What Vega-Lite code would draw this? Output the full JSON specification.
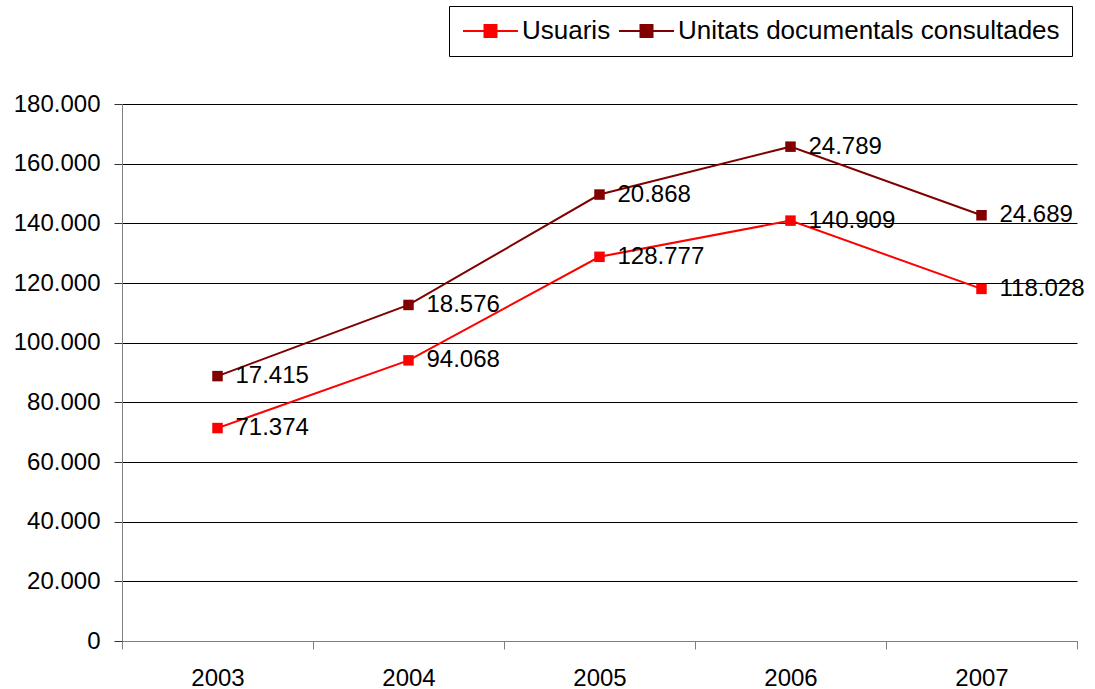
{
  "$schema": "https://vega.github.io/schema/vega-lite/v6.json",
  "width": 955,
  "height": 537,
  "autosize": {"type": "none"},
  "padding": {"left": 122, "top": 104, "right": 18, "bottom": 48},
  "background": "white",
  "config": {
    "locale": {"number": {"decimal": ",", "thousands": ".", "grouping": [3], "currency": ["", " €"]}},
    "view": {"stroke": null},
    "font": "Liberation Sans"
  },
  "data": {
    "values": [
      {"year": "2003", "series": "Usuaris", "value": 71374},
      {"year": "2004", "series": "Usuaris", "value": 94068},
      {"year": "2005", "series": "Usuaris", "value": 128777},
      {"year": "2006", "series": "Usuaris", "value": 140909},
      {"year": "2007", "series": "Usuaris", "value": 118028},
      {"year": "2003", "series": "Unitats documentals consultades", "value": 17415},
      {"year": "2004", "series": "Unitats documentals consultades", "value": 18576},
      {"year": "2005", "series": "Unitats documentals consultades", "value": 20868},
      {"year": "2006", "series": "Unitats documentals consultades", "value": 24789},
      {"year": "2007", "series": "Unitats documentals consultades", "value": 24689}
    ]
  },
  "transform": [
    {"stack": "value", "groupby": ["year"], "sort": [{"field": "series", "order": "descending"}], "as": ["y0", "y1"]}
  ],
  "encoding": {
    "x": {
      "field": "year",
      "type": "ordinal",
      "scale": {"type": "band", "paddingInner": 0, "paddingOuter": 0},
      "axis": {
        "title": null,
        "labelAngle": 0,
        "tickBand": "extent",
        "domainColor": "#808080",
        "tickColor": "#808080",
        "tickSize": 8,
        "labelPadding": 17,
        "labelFontSize": 24,
        "labelColor": "#000",
        "grid": false
      }
    },
    "y": {
      "field": "y1",
      "type": "quantitative",
      "scale": {"domain": [0, 180000], "nice": false},
      "axis": {
        "title": null,
        "values": [0, 20000, 40000, 60000, 80000, 100000, 120000, 140000, 160000, 180000],
        "format": ",d",
        "grid": true,
        "gridColor": "#000",
        "gridWidth": 1,
        "domainColor": "#808080",
        "tickColor": "#333",
        "tickSize": 8,
        "labelPadding": 14,
        "labelFontSize": 24,
        "labelColor": "#000"
      }
    },
    "color": {
      "field": "series",
      "type": "nominal",
      "scale": {"domain": ["Usuaris", "Unitats documentals consultades"], "range": ["#FF0000", "#800000"]}
    }
  },
  "layer": [
    {
      "mark": {"type": "line", "strokeWidth": 2},
      "encoding": {
        "color": {
          "field": "series",
          "type": "nominal",
          "scale": {"domain": ["Usuaris", "Unitats documentals consultades"], "range": ["#FF0000", "#800000"]},
          "legend": {
            "title": null,
            "orient": "none",
            "legendX": 327,
            "legendY": -98,
            "direction": "horizontal",
            "symbolType": "M-1,0H4M0.955,-0.545H2.045V0.545H0.955Z",
            "symbolSize": 484,
            "symbolStrokeWidth": 2,
            "strokeColor": "#000",
            "padding": 12,
            "labelFontSize": 26,
            "labelColor": "#000",
            "labelOffset": 35,
            "labelLimit": 1000,
            "columnPadding": 4,
            "encode": {
              "symbols": {
                "update": {
                  "fill": {"scale": "color", "field": "value"},
                  "stroke": {"scale": "color", "field": "value"},
                  "strokeWidth": {"value": 2},
                  "opacity": {"value": 1}
                }
              }
            }
          }
        }
      }
    },
    {
      "mark": {"type": "point", "shape": "square", "filled": true, "size": 110, "opacity": 1},
      "encoding": {
        "color": {
          "field": "series",
          "type": "nominal",
          "legend": null
        }
      }
    },
    {
      "mark": {"type": "text", "align": "left", "baseline": "middle", "dx": 18, "fontSize": 24, "color": "#000"},
      "encoding": {
        "text": {"field": "value", "type": "quantitative", "format": ",d"},
        "color": {"value": "#000"}
      }
    }
  ]
}
